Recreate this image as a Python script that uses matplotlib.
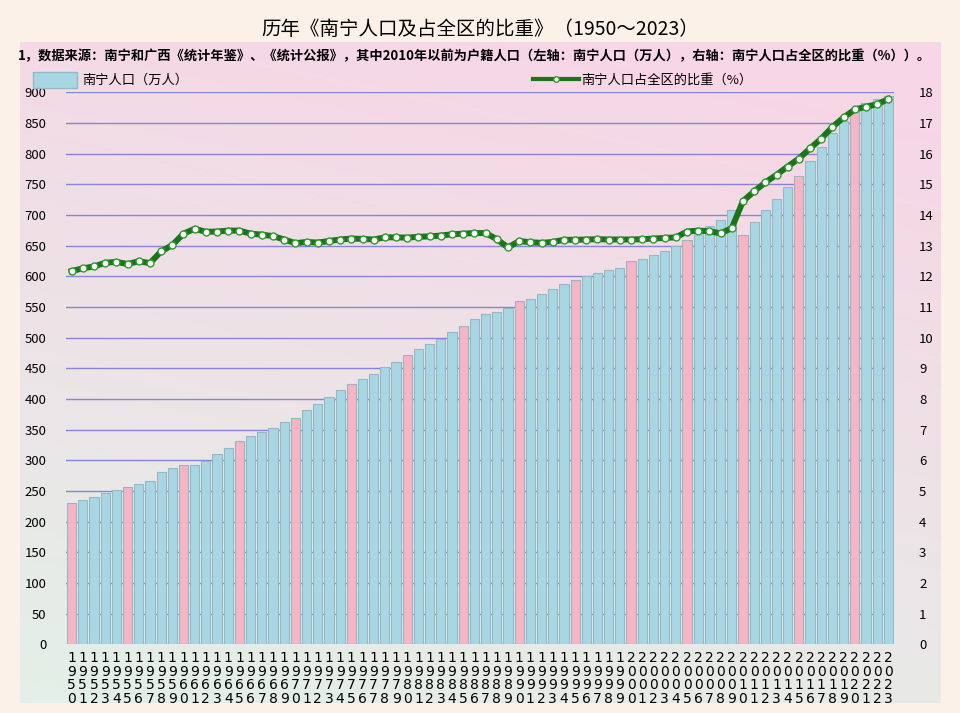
import numpy as np
import matplotlib.pyplot as plt
from matplotlib.lines import Line2D
from matplotlib.patches import Patch

plt.rcParams['font.family'] = ['Noto Sans CJK SC', 'DejaVu Sans']

years = list(range(1950, 2024))
pop = [230, 235, 240, 246, 252, 256, 261, 267, 281, 288,
       292, 293, 299, 311, 320, 331, 340, 346, 353, 362,
       369, 382, 391, 403, 414, 424, 433, 441, 452, 461,
       472, 481, 490, 498, 510, 519, 530, 539, 541, 549,
       559, 563, 571, 579, 587, 594, 601, 606, 611, 614,
       625, 629, 634, 641, 649, 660, 677, 682, 692, 708,
       667, 689, 708, 726, 745, 763, 788, 811, 834, 854,
       873, 883, 889, 894]
share = [12.17, 12.26, 12.32, 12.44, 12.47, 12.40, 12.49, 12.43, 12.81, 13.02,
         13.39, 13.55, 13.45, 13.46, 13.49, 13.49, 13.39, 13.36, 13.31, 13.20,
         13.08, 13.12, 13.10, 13.15, 13.20, 13.23, 13.22, 13.20, 13.27, 13.27,
         13.26, 13.29, 13.30, 13.33, 13.37, 13.39, 13.41, 13.41, 13.21, 12.94,
         13.15, 13.11, 13.09, 13.12, 13.19, 13.19, 13.20, 13.21, 13.20, 13.20,
         13.20, 13.21, 13.23, 13.25, 13.27, 13.46, 13.49, 13.47, 13.40, 13.57,
         14.45, 14.77, 15.06, 15.31, 15.58, 15.84, 16.17, 16.49, 16.87, 17.18,
         17.44, 17.53, 17.61, 17.78]

title = '历年《南宁人口及占全区的比重》（1950～2023）'
note = '1，数据来源：南宁和广西《统计年鉴》、《统计公报》，其中2010年以前为户籍人口（左轴：南宁人口（万人），右轴：南宁人口占全区的比重（%））。'
bar_label = '南宁人口（万人）'
line_label = '南宁人口占全区的比重（%）'

fig = plt.figure(figsize=(9.6, 7.13), dpi=100)
fig.patch.set_facecolor('#fcf1e8')

# gradient panel behind everything
bg = fig.add_axes([20/960, 10/713, 920/960, 661/713], zorder=-1)
gy, gx = np.mgrid[0:1:200j, 0:1:200j]
top = np.array([0.97, 0.84, 0.90])
bot = np.array([0.89, 0.94, 0.91])
t = np.clip(gy * 0.85 + gx * 0.25, 0, 1)[..., None]
img = bot * (1 - t) + top * t
bg.imshow(img, origin='lower', aspect='auto', extent=[0, 1, 0, 1])
bg.axis('off')

ax = fig.add_axes([66/960, 68.7/713, 828/960, 552/713])
ax.patch.set_alpha(0)
x = np.arange(len(years))
colors = ['#f6b4c5' if y % 5 == 0 else '#a8d7e3' for y in years]
ax.bar(x, pop, width=0.82, color=colors, edgecolor='#93b9c2', linewidth=0.8, zorder=2)
ax.set_xlim(-0.5, len(years) - 0.5)
ax.set_ylim(0, 900)
ax.set_yticks(range(0, 901, 50))
ax.yaxis.grid(True, color='#6e6ed2', linewidth=1.0, alpha=0.8)
for g in ax.get_ygridlines():
    g.set_zorder(3)
ax.set_xticks(x)
ax.set_xticklabels(['\n'.join(str(y)) for y in years], fontsize=10,
                   family=['DejaVu Sans'], linespacing=0.95)
ax.tick_params(axis='both', length=0)
ax.tick_params(axis='y', pad=14, labelsize=9.5)
ax.tick_params(axis='x', pad=5)
for s in ax.spines.values():
    s.set_visible(False)

ax2 = ax.twinx()
ax2.set_ylim(0, 18)
ax2.set_yticks(range(0, 19))
ax2.plot(x, share, color='#1a751a', linewidth=4.3, marker='o', markersize=5,
         markerfacecolor='white', markeredgecolor='#2e9a2e', markeredgewidth=1, zorder=5)
ax2.tick_params(axis='y', length=0, pad=18, labelsize=9.5)
for s in ax2.spines.values():
    s.set_visible(False)

fig.text(0.5, 0.958, title, ha='center', va='center', fontsize=14)
fig.text(18/960, 0.921, note, ha='left', va='center', fontsize=9.5, fontweight='bold')

handles = [Patch(facecolor='#a8d7e3', edgecolor='#93b9c2')]
fig.legend(handles, [bar_label], loc='center left', bbox_to_anchor=(28/960, 0.888),
           frameon=False, fontsize=9.5, handlelength=3.3, handleheight=1.5,
           handletextpad=0.4, borderaxespad=0)
lh = [Line2D([0], [0], color='#1a751a', linewidth=3, marker='o', markersize=4,
             markerfacecolor='white', markeredgecolor='#2e9a2e', markevery=[0, 1])]
fig.legend(lh, [line_label], loc='center left', bbox_to_anchor=(528/960, 0.888),
           frameon=False, fontsize=9.5, handlelength=3.5, handletextpad=0.1,
           borderaxespad=0)

fig.savefig('out.png', dpi=100, facecolor=fig.get_facecolor())
